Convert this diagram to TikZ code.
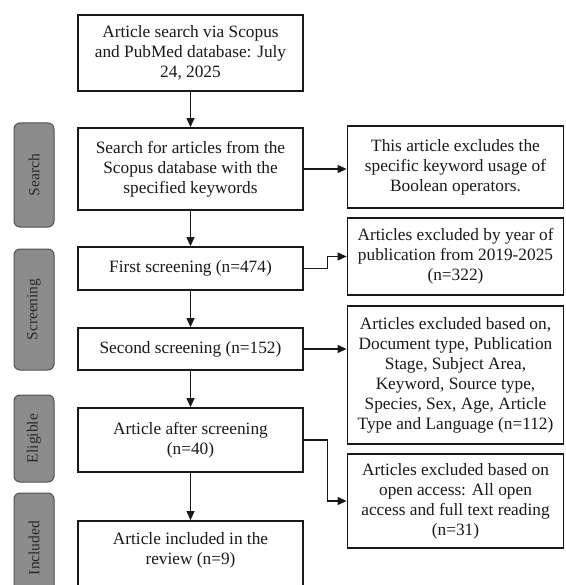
\documentclass[tikz,border=0pt]{standalone}
\usepackage{fontspec}
\setmainfont{Liberation Serif}
\usetikzlibrary{arrows.meta}
\definecolor{ink}{RGB}{25,25,25}
\definecolor{lblfill}{RGB}{140,140,140}
\definecolor{lbldraw}{RGB}{80,80,80}
\definecolor{lbltext}{RGB}{40,40,40}
\begin{document}
\begin{tikzpicture}[x=1pt,y=-1pt,
  box/.style={draw=ink, line width=1.8pt, fill=white, align=center, inner sep=0pt,
    font=\fontsize{17.3}{20}\selectfont, text=ink},
  mainbox/.style={box, minimum width=225pt},
  sidebox/.style={box, minimum width=216pt},
  txt/.style={align=center, inner sep=0pt, font=\fontsize{17.3}{20}\selectfont, text=ink},
  phase/.style={draw=lbldraw, fill=lblfill, rounded corners=6pt, rotate=90,
    minimum height=40pt, inner sep=0pt, line width=1pt,
    font=\fontsize{15.5}{18}\selectfont, text=lbltext},
  conn/.style={draw=ink, line width=1.1pt, -{Triangle[length=9pt,width=8pt]}}
]
\useasboundingbox (0,0) rectangle (565,585);
\clip (0,0) rectangle (565,585);
% phase labels
\node[phase, minimum width=104pt] (p1) at (34,175) {Search};
\node[phase, minimum width=121pt] (p2) at (34,309.5) {Screening};
\node[phase, minimum width=87pt] (p3) at (34,438.5) {Eligible};
\node[phase, minimum width=110pt] (p4) at (34,548) {Included};
% main column
\node[mainbox, minimum height=76pt] (b1) at (190.5,53) {Article search via Scopus\\and PubMed database: July\\24, 2025};
\node[mainbox, minimum height=82pt] (b2) at (190.5,169) {Search for articles from the\\Scopus database with the\\specified keywords};
\node[mainbox, minimum height=43pt] (b3) at (190.5,268.5) {First screening (n=474)};
\node[mainbox, minimum height=42pt] (b4) at (190.5,349) {Second screening (n=152)};
\node[mainbox, minimum height=64pt] (b5) at (190.5,440) {Article after screening\\(n=40)};
\node[mainbox, minimum height=70pt] (b6) at (190.5,556) {};
\node[txt] (t6) at (190.5,550) {Article included in the\\review (n=9)};
% right column
\node[sidebox, minimum height=82pt] (ra) at (455.5,167) {This article excludes the\\specific keyword usage of\\Boolean operators.};
\node[sidebox, minimum height=77pt] (rb) at (455.5,256.5) {Articles excluded by year of\\publication from 2019-2025\\(n=322)};
\node[sidebox, minimum height=138pt] (rc) at (455.5,375) {Articles excluded based on,\\Document type, Publication\\Stage, Subject Area,\\Keyword, Source type,\\Species, Sex, Age, Article\\Type and Language (n=112)};
\node[sidebox, minimum height=94pt] (rd) at (455.5,501) {Articles excluded based on\\open access: All open\\access and full text reading\\(n=31)};
% connectors
\draw[conn] (b1) -- (b2);
\draw[conn] (b2) -- (b3);
\draw[conn] (b3) -- (b4);
\draw[conn] (b4) -- (b5);
\draw[conn] (b5) -- (b6);
\draw[conn] (b2.east) -- (b2.east -| ra.west);
\draw[conn] (b3.east) -- ++(24,0) |- (rb.west);
\draw[conn] (b4.east) -- (b4.east -| rc.west);
\draw[conn] (b5.east) -- ++(24,0) |- (rd.west);
\end{tikzpicture}
\end{document}
